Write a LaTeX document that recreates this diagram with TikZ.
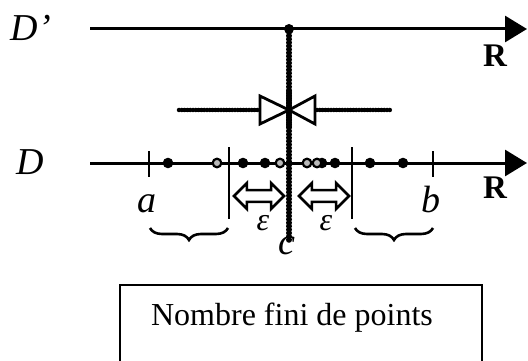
\documentclass[tikz,border=0pt]{standalone}
\usepackage{fontspec}
\setmainfont{Liberation Serif}
\usetikzlibrary{arrows.meta,positioning,shapes.arrows,decorations.pathreplacing}
\tikzset{
  axis/.style={line width=3pt,-{Triangle[length=22pt,width=26pt]}},
  beads/.style={line width=6pt,line cap=round,dash pattern=on 0pt off 3.4pt},
  thinbeads/.style={line width=4.5pt,line cap=round,dash pattern=on 0pt off 2.8pt},
  bowtie/.style={line width=2.8pt,fill=white,line join=miter},
  epsarrow/.style={draw,line width=2.6pt,shape=double arrow,inner sep=4.6pt,
    double arrow head extend=7pt,minimum height=50pt},
  lab/.style={font=\fontsize{38}{40}\selectfont\itshape,anchor=base,inner sep=0pt},
  reals/.style={font=\fontsize{33}{35}\selectfont\bfseries,anchor=base,inner sep=0pt},
  brace/.style={line width=2.6pt,decorate,decoration={brace,amplitude=12pt}}
}

\begin{document}
\begin{tikzpicture}[x=1pt,y=-1pt]
    \useasboundingbox (0,0) rectangle (528,361);
    \clip (0,0) rectangle (528,361);
    % Axis D'
    \node[lab] (labDp) at (31,41) {D’};
    \coordinate (dp0) at (90,29);
    \coordinate (dp1) at (527,29);
    \draw[axis] (dp0) -- (dp1);
    \node[reals] (labR1) at (495,67) {R};
    % Axis D
    \node[lab] (labD) at (30,175) {D};
    \coordinate (d0) at (90,163);
    \coordinate (d1) at (527,163);
    \draw[axis] (d0) -- (d1);
    \node[reals] (labR2) at (495,198) {R};
    % a, b
    \foreach \x/\nm in {149/ta,433/tb} {
        \coordinate (\nm) at (\x,151);
        \draw[line width=2.2pt] (\nm) -- ++(0,26);
    }
    \node[lab] (labA) at (147,212) {a};
    \node[lab] (labB) at (431,212) {b};
    % c - eps, c + eps
    \foreach \x/\nm in {229/vl,352/vr} {
        \coordinate (\nm) at (\x,147);
        \draw[line width=2.2pt] (\nm) -- ++(0,72);
    }
    % points
    \foreach \x in {168,243,265,322,335,370,403} {
        \fill (\x,163) circle (5.3pt);
    }
    \foreach \x in {217,280,307,317} {
        \filldraw[fill=gray!55,line width=2.2pt] (\x,163) circle (4.3pt);
    }
    % c
    \coordinate (c0) at (289,29);
    \coordinate (c1) at (289,240);
    \draw[beads] (c0) -- (c1);
    \fill (c0) circle (5pt);
    \node[lab] (labC) at (287,254) {c};
    % bowtie
    \coordinate (bow) at (289,110);
    \draw[thinbeads] (179,110) -- (258,110);
    \draw[thinbeads] (317,110) -- (392,110);
    \draw[bowtie] (bow) -- ++(-29,-14) -- ++(0,28) -- cycle;
    \draw[bowtie] (bow) -- ++(26,-14) -- ++(0,28) -- cycle;
    \draw[beads] (289,92) -- (289,128);
    % epsilon
    \node[epsarrow] (eps1) at (259,196) {};
    \node[epsarrow] (eps2) at (324,196) {};
    \node[font=\fontsize{32}{34}\selectfont\itshape,anchor=base,inner sep=0pt] (labE1) at (263,230) {ε};
    \node[font=\fontsize{32}{34}\selectfont\itshape,anchor=base,inner sep=0pt] (labE2) at (326,230) {ε};
    % braces
    \draw[brace] (228,228) -- (150,228);
    \draw[brace] (433,228) -- (355,228);
    % box (its bottom lies below the picture)
    \draw[line width=2.6pt] (120,370) |- (482,285) -- (482,370);
    \node[font=\fontsize{32}{36}\selectfont,anchor=base] (txt) at (292,325) {Nombre fini de points};
\end{tikzpicture}
\end{document}
